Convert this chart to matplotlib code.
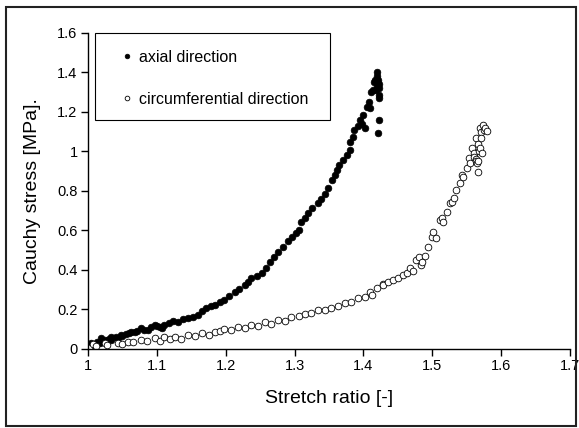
import matplotlib
matplotlib.use("Agg")
import matplotlib.pyplot as plt
from matplotlib.patches import Rectangle

plt.rcParams['font.family'] = ['Liberation Sans', 'DejaVu Sans']

# axial direction (filled markers)
axial_x = [1.001, 1.003, 1.005, 1.008, 1.010, 1.013, 1.017, 1.019, 1.022, 1.025,
           1.030, 1.033, 1.034, 1.040, 1.044, 1.048, 1.049, 1.055, 1.060, 1.063,
           1.068, 1.071, 1.077, 1.082, 1.087, 1.092, 1.097, 1.100, 1.105, 1.108,
           1.111, 1.118, 1.124, 1.131, 1.138, 1.145, 1.152, 1.160, 1.166, 1.172,
           1.178, 1.184, 1.191, 1.198, 1.205, 1.213, 1.220, 1.228, 1.233, 1.237,
           1.245, 1.252, 1.258, 1.264, 1.270, 1.276, 1.283, 1.290, 1.296, 1.302,
           1.306, 1.310, 1.315, 1.319, 1.326, 1.334, 1.339, 1.344, 1.349, 1.354,
           1.358, 1.361, 1.365, 1.371, 1.376, 1.380, 1.381, 1.385, 1.387, 1.392,
           1.395, 1.398, 1.400, 1.402, 1.405, 1.408, 1.410, 1.411, 1.414, 1.416,
           1.417, 1.418, 1.419, 1.420, 1.420, 1.421, 1.422, 1.422, 1.422, 1.422,
           1.423, 1.421]
axial_y = [0.013, 0.008, 0.029, 0.015, 0.022, 0.035, 0.030, 0.054, 0.040, 0.045,
           0.050, 0.047, 0.062, 0.060, 0.058, 0.071, 0.064, 0.075, 0.080, 0.088,
           0.085, 0.089, 0.105, 0.095, 0.098, 0.110, 0.122, 0.115, 0.112, 0.105,
           0.122, 0.130, 0.140, 0.138, 0.150, 0.155, 0.162, 0.172, 0.190, 0.206,
           0.216, 0.223, 0.236, 0.248, 0.270, 0.290, 0.305, 0.324, 0.340, 0.358,
           0.370, 0.383, 0.410, 0.442, 0.465, 0.493, 0.515, 0.545, 0.565, 0.585,
           0.605, 0.645, 0.665, 0.690, 0.715, 0.740, 0.760, 0.785, 0.815, 0.856,
           0.880, 0.906, 0.932, 0.957, 0.983, 1.008, 1.050, 1.075, 1.110, 1.130,
           1.159, 1.140, 1.184, 1.117, 1.226, 1.250, 1.220, 1.300, 1.311, 1.350,
           1.362, 1.310, 1.404, 1.380, 1.330, 1.360, 1.340, 1.320, 1.286, 1.270,
           1.159, 1.092]

# circumferential direction (open markers)
circ_x = [1.001, 1.007, 1.012, 1.024, 1.028, 1.044, 1.050, 1.058, 1.066, 1.077,
          1.085, 1.097, 1.104, 1.111, 1.119, 1.126, 1.135, 1.145, 1.155, 1.165,
          1.175, 1.184, 1.191, 1.198, 1.208, 1.218, 1.228, 1.237, 1.247, 1.257,
          1.266, 1.276, 1.286, 1.295, 1.306, 1.315, 1.324, 1.334, 1.344, 1.353,
          1.363, 1.373, 1.382, 1.392, 1.402, 1.410, 1.412, 1.420, 1.428, 1.429,
          1.436, 1.443, 1.450, 1.458, 1.463, 1.468, 1.472, 1.477, 1.480, 1.483,
          1.485, 1.490, 1.494, 1.499, 1.501, 1.505, 1.511, 1.514, 1.516, 1.521,
          1.526, 1.529, 1.531, 1.535, 1.540, 1.543, 1.545, 1.550, 1.553, 1.555,
          1.558, 1.560, 1.561, 1.563, 1.564, 1.564, 1.565, 1.566, 1.566, 1.567,
          1.568, 1.569, 1.569, 1.570, 1.571, 1.572, 1.574, 1.575, 1.577, 1.580]
circ_y = [0.005, 0.025, 0.013, 0.029, 0.022, 0.032, 0.025, 0.037, 0.035, 0.046,
          0.039, 0.054, 0.042, 0.059, 0.049, 0.062, 0.052, 0.071, 0.064, 0.079,
          0.072, 0.088, 0.089, 0.100, 0.098, 0.110, 0.106, 0.122, 0.115, 0.135,
          0.126, 0.147, 0.140, 0.164, 0.165, 0.177, 0.182, 0.197, 0.199, 0.206,
          0.216, 0.235, 0.240, 0.259, 0.265, 0.290, 0.275, 0.308, 0.329, 0.324,
          0.340, 0.349, 0.360, 0.375, 0.385, 0.408, 0.395, 0.451, 0.467, 0.426,
          0.442, 0.470, 0.518, 0.569, 0.594, 0.561, 0.653, 0.661, 0.645, 0.695,
          0.738, 0.746, 0.763, 0.805, 0.839, 0.880, 0.873, 0.915, 0.965, 0.941,
          1.017, 0.990, 0.970, 0.960, 1.067, 0.950, 0.940, 1.040, 0.950, 0.898,
          1.000, 1.118, 1.017, 1.100, 1.067, 0.990, 1.135, 1.110, 1.120, 1.105]

x_ticks = [1, 1.1, 1.2, 1.3, 1.4, 1.5, 1.6, 1.7]
x_tick_labels = ['1', '1.1', '1.2', '1.3', '1.4', '1.5', '1.6', '1.7']
y_ticks = [0, 0.2, 0.4, 0.6, 0.8, 1.0, 1.2, 1.4, 1.6]
y_tick_labels = ['0', '0.2', '0.4', '0.6', '0.8', '1', '1.2', '1.4', '1.6']

fig = plt.figure(figsize=(5.79, 4.28), dpi=100)
ax = fig.add_axes([0.152, 0.1846, 0.8325, 0.7383])

ax.plot(axial_x, axial_y, linestyle='none', marker='o', ms=4.8,
        mfc='black', mec='black', mew=0.5, label='axial direction')
ax.plot(circ_x, circ_y, linestyle='none', marker='o', ms=4.8,
        mfc='white', mec='black', mew=0.6, label='circumferential direction')

ax.set_xlim(1, 1.7)
ax.set_ylim(0, 1.6)
ax.set_xticks(x_ticks)
ax.set_xticklabels(x_tick_labels)
ax.set_yticks(y_ticks)
ax.set_yticklabels(y_tick_labels)
ax.tick_params(direction='out', length=5, width=1, labelsize=10.5, pad=2.5)
for s in ['top', 'right']:
    ax.spines[s].set_visible(False)
for s in ['left', 'bottom']:
    ax.spines[s].set_linewidth(1)

ax.set_xlabel('Stretch ratio [-]', fontsize=14, labelpad=12)
ax.set_ylabel('Cauchy stress [MPa].', fontsize=14, labelpad=12)

# legend: markers and text without frame, box drawn separately
leg = ax.legend(frameon=False, loc='upper left',
                bbox_to_anchor=(120.5 / 579, 1 - 49.5 / 428),
                bbox_transform=fig.transFigure, fontsize=11.5,
                handlelength=0.8, handletextpad=0.35, labelspacing=1.72,
                borderpad=0, borderaxespad=0, numpoints=1, markerscale=0.7)
fig.patches.append(Rectangle((95 / 579, 1 - 120 / 428), 235 / 579, 87 / 428,
                             transform=fig.transFigure, fill=False,
                             edgecolor='black', linewidth=0.8))

# outer frame
fig.patches.append(Rectangle((6 / 579, 1 - 426 / 428), 570 / 579, 419 / 428,
                             transform=fig.transFigure, fill=False,
                             edgecolor='#222222', linewidth=1.5))

fig.savefig('out.png', dpi=100)
